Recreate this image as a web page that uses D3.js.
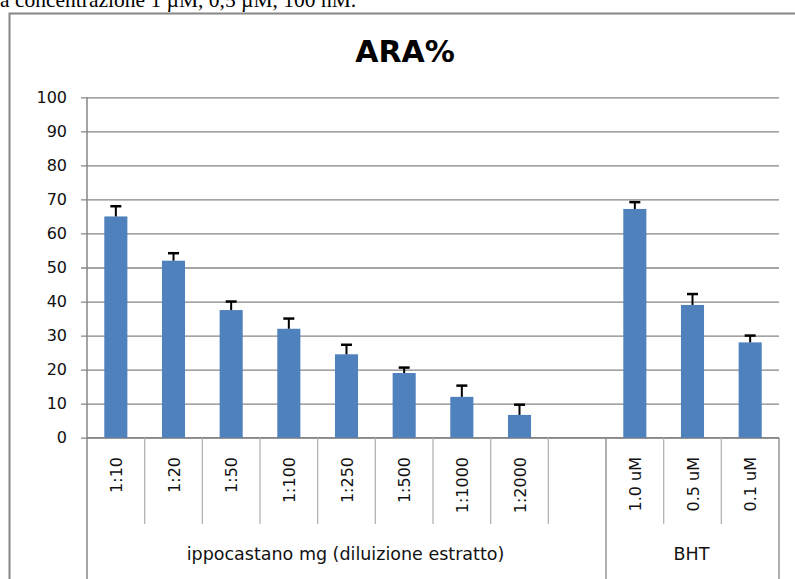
<!DOCTYPE html>
<html>
<head>
<meta charset="utf-8">
<script src="https://cdn.jsdelivr.net/npm/d3@7"></script>
<style>
  html, body { margin: 0; padding: 0; background: #fff; overflow: hidden; }
  svg { display: block; }
</style>
</head>
<body>
<svg id="chart" width="795" height="579"></svg>
<script>
// ---- data ----
const categories = ["1:10", "1:20", "1:50", "1:100", "1:250", "1:500", "1:1000", "1:2000", "", "1.0 uM", "0.5 uM", "0.1 uM"];
const values     = [65, 52, 37.5, 32, 24.5, 19, 12, 6.7, null, 67.2, 39, 28];
const errors     = [3, 2.2, 2.5, 3, 2.8, 1.6, 3.3, 3, null, 2, 3.2, 2];
const groupLabels = ["ippocastano mg (diluizione estratto)", "BHT"];
const groupSizes  = [9, 3];
const yTicks = [0, 10, 20, 30, 40, 50, 60, 70, 80, 90, 100];
const titleText = "ARA%";
const captionText = "a concentrazione 1 µM, 0,5 µM, 100 nM.";

// ---- layout ----
const svg = d3.select("#chart");
const W = 795, H = 579;
const mLeft = 87, mRight = 779, mTop = 97.3, mBottom = 437.7;
const grid = "#868686";
const sans = "'DejaVu Sans', Verdana, sans-serif";

// caption (cut off at top of the picture, as in the reference)
svg.append("text")
  .attr("x", 0).attr("y", 7)
  .attr("font-family", "'Liberation Serif', 'Times New Roman', serif")
  .attr("font-size", 21.5)
  .attr("fill", "#000")
  .text(captionText);

// frame
svg.append("rect")
  .attr("x", 9.5).attr("y", 13.5)
  .attr("width", W + 20).attr("height", H + 20)
  .attr("fill", "#fff")
  .attr("stroke", grid).attr("stroke-width", 2);

// title
svg.append("text")
  .attr("x", 405).attr("y", 62)
  .attr("text-anchor", "middle")
  .attr("font-family", sans)
  .attr("font-weight", "bold")
  .attr("font-size", 30)
  .attr("fill", "#000")
  .text(titleText);

const x = d3.scaleBand().domain(d3.range(categories.length)).range([mLeft, mRight]).paddingInner(0).paddingOuter(0);
const y = d3.scaleLinear().domain([0, 100]).range([mBottom, mTop]);

// gridlines + y ticks
const yAxis = d3.axisLeft(y).tickValues(yTicks).tickSize(-(mRight - mLeft)).tickSizeOuter(0).tickPadding(0).tickFormat(d3.format("d"));
const gy = svg.append("g").attr("transform", `translate(${mLeft},0)`).call(yAxis);
gy.select(".domain").remove();
gy.selectAll(".tick line").attr("stroke", grid).attr("stroke-width", 1.3).attr("x1", -6);
gy.selectAll(".tick text")
  .attr("x", -20)
  .attr("font-family", sans).attr("font-size", 16).attr("fill", "#111");

// y axis line (extends through the category area)
svg.append("line")
  .attr("x1", mLeft).attr("x2", mLeft).attr("y1", mTop).attr("y2", H)
  .attr("stroke", grid).attr("stroke-width", 1.5);

// x axis baseline
svg.append("line")
  .attr("x1", mLeft).attr("x2", mRight).attr("y1", mBottom).attr("y2", mBottom)
  .attr("stroke", grid).attr("stroke-width", 1.5);

// category separators
const bw = x.bandwidth();
const groupEnds = [];
let acc = 0;
groupSizes.forEach(s => { acc += s; groupEnds.push(acc); });
for (let i = 1; i <= categories.length; i++) {
  const isGroup = groupEnds.includes(i);
  svg.append("line")
    .attr("x1", x(0) + i * bw).attr("x2", x(0) + i * bw)
    .attr("y1", mBottom).attr("y2", isGroup ? H : 524)
    .attr("stroke", isGroup ? grid : "#b4b4b4").attr("stroke-width", 1.3);
}

// bars
const barW = bw * 0.4;
const data = categories.map((c, i) => ({ c, i, v: values[i], e: errors[i] })).filter(d => d.v != null);
svg.append("g").selectAll("rect").data(data).join("rect")
  .attr("x", d => x(d.i) + (bw - barW) / 2)
  .attr("y", d => y(d.v))
  .attr("width", barW)
  .attr("height", d => y(0) - y(d.v))
  .attr("fill", "#4f81bd");

// error bars (upper only)
const eg = svg.append("g").attr("stroke", "#000").attr("stroke-width", 2);
eg.selectAll("line.v").data(data).join("line").attr("class", "v")
  .attr("x1", d => x(d.i) + bw / 2).attr("x2", d => x(d.i) + bw / 2)
  .attr("y1", d => y(d.v)).attr("y2", d => y(d.v + d.e));
eg.selectAll("line.c").data(data).join("line").attr("class", "c")
  .attr("stroke-width", 2.5)
  .attr("x1", d => x(d.i) + bw / 2 - 5.5).attr("x2", d => x(d.i) + bw / 2 + 5.5)
  .attr("y1", d => y(d.v + d.e)).attr("y2", d => y(d.v + d.e));

// category labels (rotated)
svg.append("g").selectAll("text").data(categories.map((c, i) => ({ c, i })).filter(d => d.c)).join("text")
  .attr("transform", d => `translate(${x(d.i) + bw / 2 + 0.5},457) rotate(-90)`)
  .attr("text-anchor", "end")
  .attr("dominant-baseline", "central")
  .attr("font-family", sans).attr("font-size", 16).attr("fill", "#111")
  .text(d => d.c);

// group labels
let start = 0;
groupLabels.forEach((g, k) => {
  const x0 = x(0) + start * bw, x1 = x(0) + (start + groupSizes[k]) * bw;
  svg.append("text")
    .attr("x", (x0 + x1) / 2 - 1).attr("y", 560)
    .attr("text-anchor", "middle")
    .attr("font-family", sans).attr("font-size", 17.5).attr("fill", "#111")
    .text(g);
  start += groupSizes[k];
});
</script>
</body>
</html>
